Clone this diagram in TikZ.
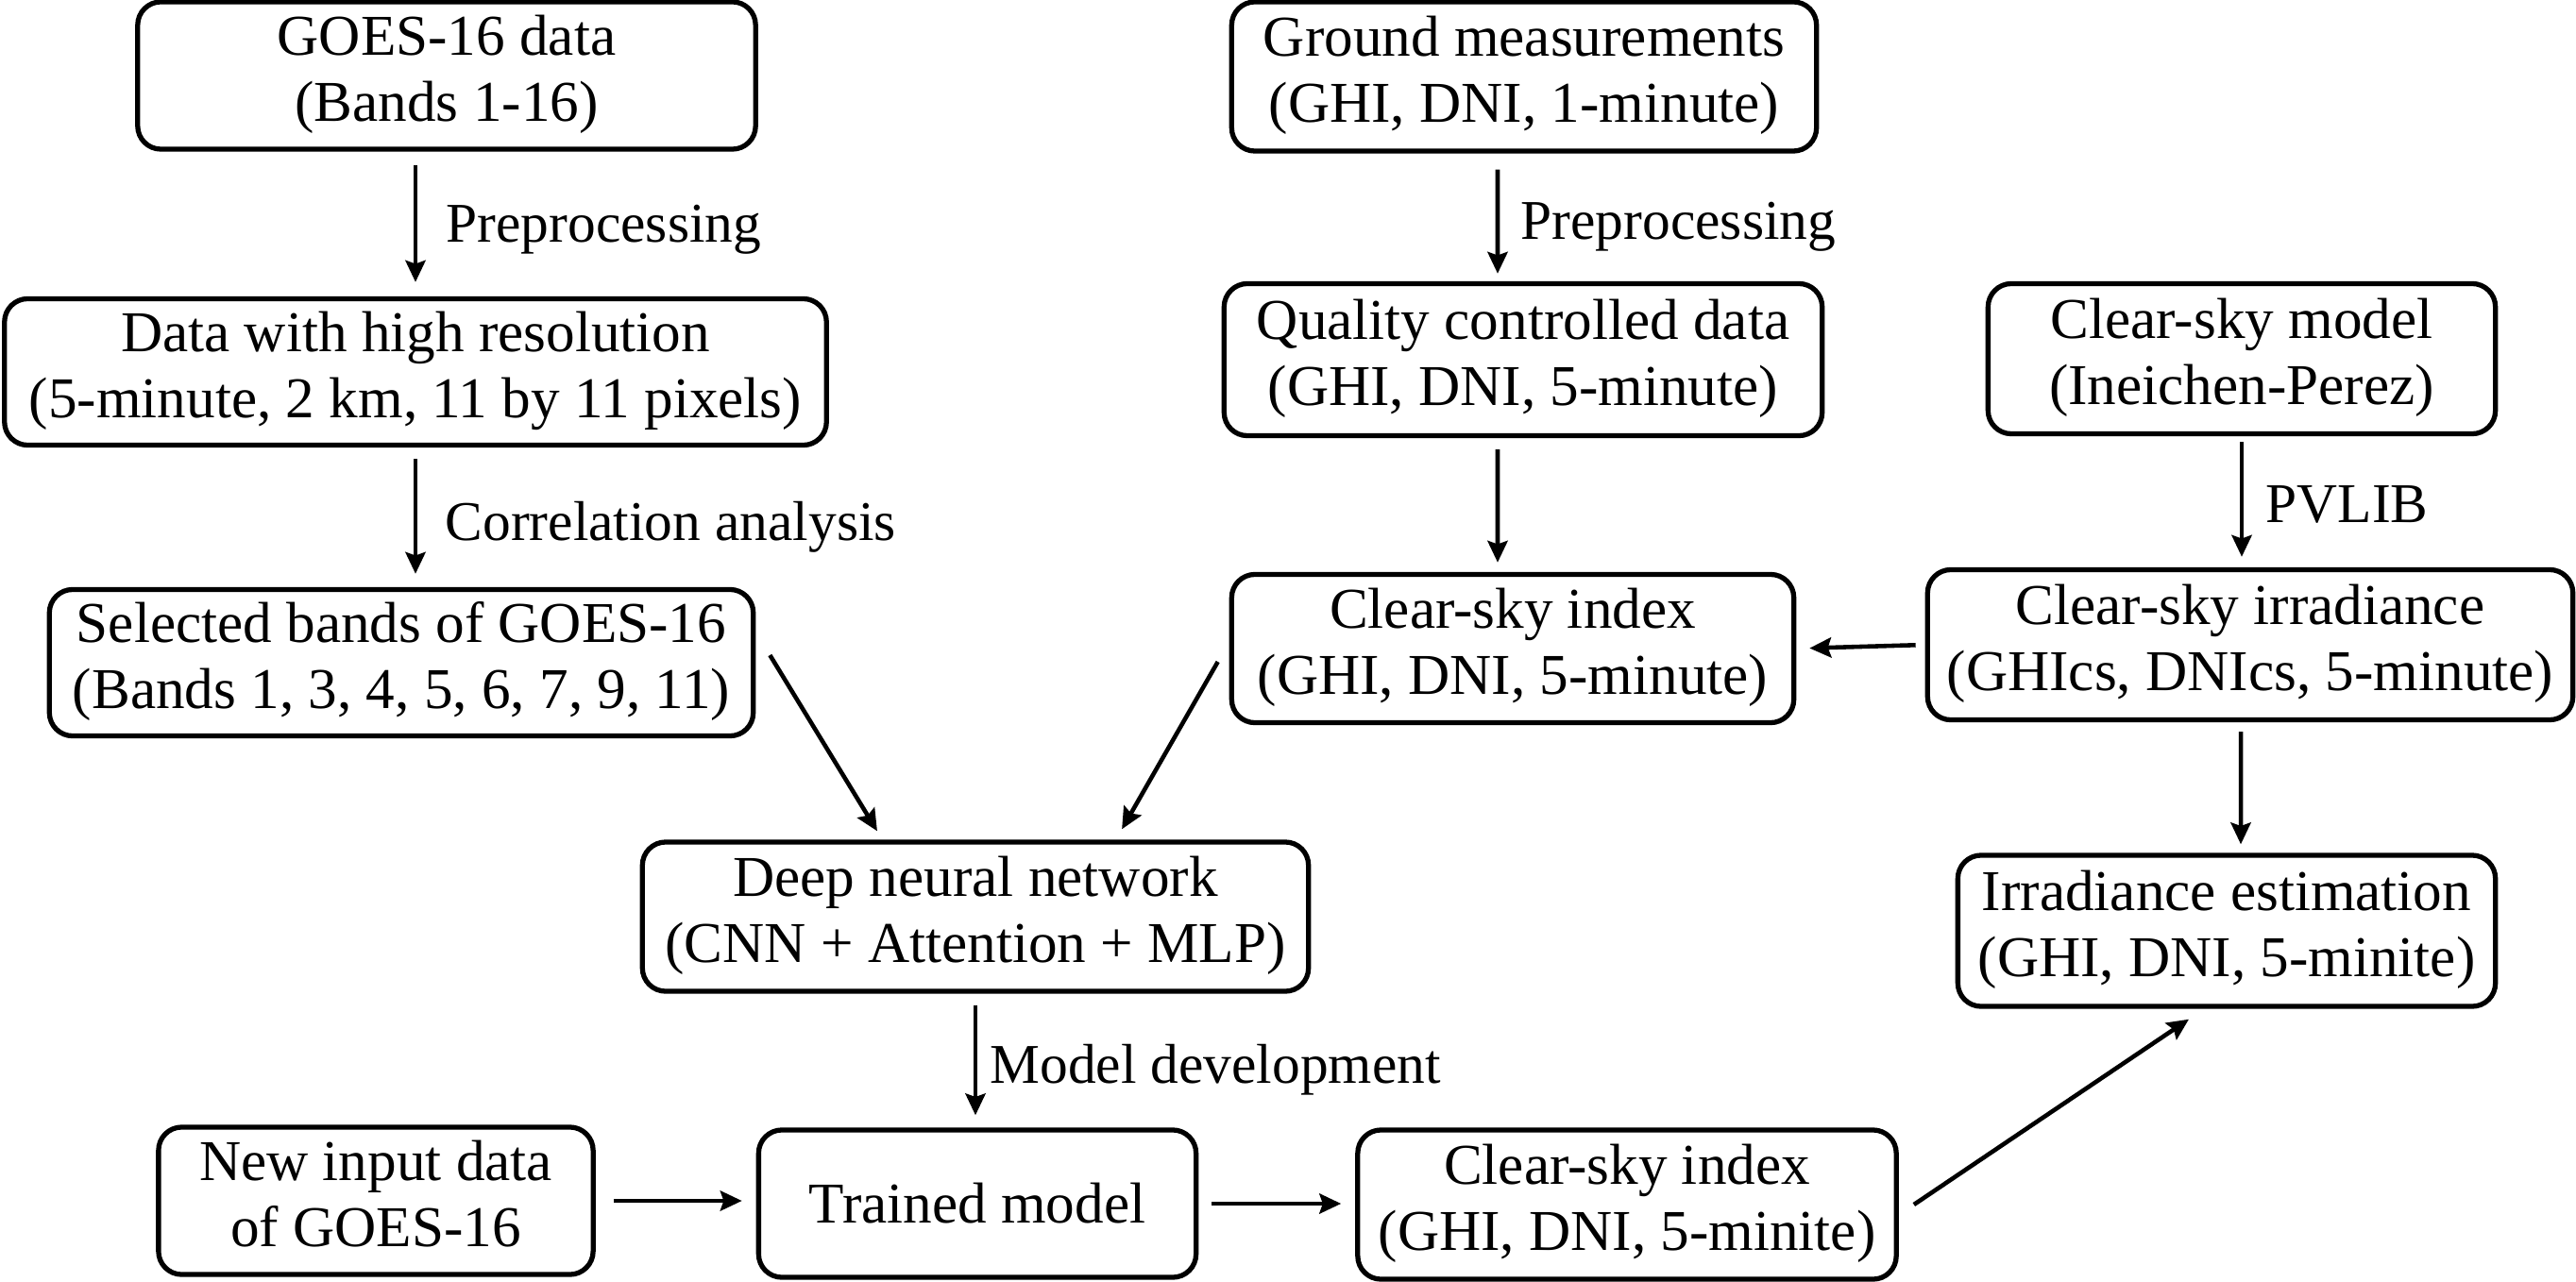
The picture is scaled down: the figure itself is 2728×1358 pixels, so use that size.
\documentclass[tikz,border=0pt]{standalone}
\usepackage{fontspec}
\setmainfont{Liberation Serif}
\usetikzlibrary{arrows.meta}
\newcommand{\myfont}{\fontsize{17.4}{19.8}\selectfont}
\newcommand{\mylblfont}{\fontsize{16.9}{19.8}\selectfont}
\begin{document}
\begin{tikzpicture}[x=0.01cm,y=-0.01cm,
  box/.style={draw, line width=1.5pt, rounded corners=7pt, align=center, inner sep=0pt, font=\myfont},
  box2/.style={box, execute at begin node={\rule{0pt}{17.9pt}}, execute at end node={\rule[-4.5pt]{0pt}{4.5pt}}},
  arr/.style={line width=1.3pt, -{Stealth[length=6.5pt,width=6pt,inset=1pt]}},
  lbl/.style={font=\mylblfont, anchor=base west, inner sep=0pt}]
\useasboundingbox (0,0) rectangle (2728,1358);
\node[box2, minimum width=6.54cm, minimum height=1.56cm] (goes) at (473,80) {GOES-16 data\\(Bands 1-16)};
\node[box2, minimum width=8.70cm, minimum height=1.55cm] (hires) at (440,394) {Data with high resolution\\(5-minute, 2 km, 11 by 11 pixels)};
\node[box2, minimum width=7.45cm, minimum height=1.55cm] (sel) at (425,702) {Selected bands of GOES-16\\(Bands 1, 3, 4, 5, 6, 7, 9, 11)};
\node[box2, minimum width=7.05cm, minimum height=1.58cm] (dnn) at (1033,971) {Deep neural network\\(CNN + Attention + MLP)};
\node[box2, minimum width=4.60cm, minimum height=1.56cm] (newin) at (398,1272) {New input data\\of GOES-16};
\node[box, minimum width=4.63cm, minimum height=1.56cm] (trained) at (1035,1275) {Trained model};
\node[box2, minimum width=5.70cm, minimum height=1.58cm] (csib) at (1723,1276) {Clear-sky index\\(GHI, DNI, 5-minite)};
\node[box2, minimum width=5.69cm, minimum height=1.60cm] (irr) at (2358,986) {Irradiance estimation\\(GHI, DNI, 5-minite)};
\node[box2, minimum width=6.19cm, minimum height=1.58cm] (ground) at (1614,81) {Ground measurements\\(GHI, DNI, 1-minute)};
\node[box2, minimum width=6.33cm, minimum height=1.61cm] (qc) at (1613,381) {Quality controlled data\\(GHI, DNI, 5-minute)};
\node[box2, minimum width=5.95cm, minimum height=1.57cm] (csit) at (1602,687) {Clear-sky index\\(GHI, DNI, 5-minute)};
\node[box2, minimum width=5.37cm, minimum height=1.59cm] (csm) at (2374,380) {Clear-sky model\\(Ineichen-Perez)};
\node[box2, minimum width=6.83cm, minimum height=1.59cm] (csirr) at (2383,683) {Clear-sky irradiance\\(GHIcs, DNIcs, 5-minute)};

\draw[arr, shorten <=0.14cm, shorten >=0.15cm] (hires.north |- goes.south) -- (hires.north);
\draw[arr, shorten <=0.12cm, shorten >=0.14cm] (hires.south) -- (hires.south |- sel.north);
\draw[arr] ([xshift=0.15cm,yshift=0.08cm]sel.east) -- ([xshift=-1.04cm,yshift=0.09cm]dnn.north);
\draw[arr] ([xshift=-0.12cm,yshift=-0.14cm]csit.west) -- ([xshift=1.55cm,yshift=0.11cm]dnn.north);
\draw[arr, shorten <=0.12cm, shorten >=0.13cm] (dnn.south) -- (dnn.south |- trained.north);
\draw[arr, shorten <=0.19cm, shorten >=0.15cm] (newin.east) -- (newin.east -| trained.west);
\draw[arr, shorten <=0.14cm, shorten >=0.15cm] (trained.east) -- (trained.east -| csib.west);
\draw[arr] ([xshift=0.16cm]csib.east) -- ([xshift=-0.4cm,yshift=-0.11cm]irr.south);
\draw[arr, shorten <=0.17cm, shorten >=0.08cm] ([xshift=-0.28cm]ground.south) -- ([xshift=-0.27cm]qc.north);
\draw[arr, shorten <=0.12cm, shorten >=0.1cm] ([xshift=-0.27cm]qc.south) -- ([xshift=-0.16cm]csit.north);
\draw[arr, shorten <=0.06cm, shorten >=0.11cm] (csm.south) -- (csm.south |- csirr.north);
\draw[arr, shorten <=0.1cm, shorten >=0.14cm] (csirr.west) -- (csit.east);
\draw[arr, shorten <=0.1cm, shorten >=0.09cm] ([xshift=-0.1cm]csirr.south) -- ([xshift=0.15cm]irr.north);

\node[lbl] (l1) at (472,257) {Preprocessing};
\node[lbl] (l2) at (471,572) {Correlation analysis};
\node[lbl] (l3) at (1048,1147) {Model development};
\node[lbl] (l4) at (1610,254) {Preprocessing};
\node[lbl] (l5) at (2399,553) {PVLIB};
\end{tikzpicture}
\end{document}
